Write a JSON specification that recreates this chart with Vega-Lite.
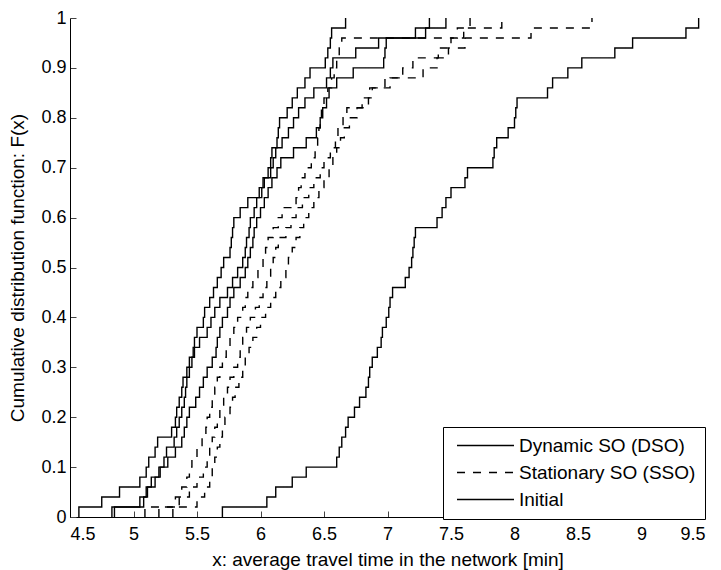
{
  "$schema": "https://vega.github.io/schema/vega-lite/v6.json",
  "width": 635,
  "height": 499,
  "autosize": {"type": "none"},
  "padding": {"left": 70, "top": 18, "right": 16, "bottom": 53},
  "config": {
    "view": {"stroke": null},
    "font": "Liberation Sans",
    "axis": {"grid": false, "domainColor": "#000", "tickColor": "#444", "labelColor": "#000", "titleColor": "#000", "labelFont": "Liberation Sans", "titleFont": "Liberation Sans", "labelFontSize": 18, "titleFontSize": 19, "titleFontWeight": "normal"}
  },
  "data": {"values": [
    {"run":"I","x":5.70,"y":0},
    {"run":"I","x":5.70,"y":0.02},{"run":"I","x":6.05,"y":0.04},{"run":"I","x":6.12,"y":0.06},{"run":"I","x":6.25,"y":0.08},{"run":"I","x":6.36,"y":0.10},
    {"run":"I","x":6.60,"y":0.12},{"run":"I","x":6.62,"y":0.14},{"run":"I","x":6.64,"y":0.16},{"run":"I","x":6.67,"y":0.18},{"run":"I","x":6.69,"y":0.20},
    {"run":"I","x":6.74,"y":0.22},{"run":"I","x":6.78,"y":0.24},{"run":"I","x":6.83,"y":0.26},{"run":"I","x":6.85,"y":0.28},{"run":"I","x":6.86,"y":0.30},
    {"run":"I","x":6.88,"y":0.32},{"run":"I","x":6.92,"y":0.34},{"run":"I","x":6.95,"y":0.36},{"run":"I","x":6.96,"y":0.38},{"run":"I","x":6.99,"y":0.40},
    {"run":"I","x":7.01,"y":0.42},{"run":"I","x":7.02,"y":0.44},{"run":"I","x":7.04,"y":0.46},{"run":"I","x":7.14,"y":0.48},{"run":"I","x":7.17,"y":0.50},
    {"run":"I","x":7.19,"y":0.52},{"run":"I","x":7.20,"y":0.54},{"run":"I","x":7.21,"y":0.56},{"run":"I","x":7.22,"y":0.58},{"run":"I","x":7.39,"y":0.60},
    {"run":"I","x":7.43,"y":0.62},{"run":"I","x":7.46,"y":0.64},{"run":"I","x":7.50,"y":0.66},{"run":"I","x":7.61,"y":0.68},{"run":"I","x":7.63,"y":0.70},
    {"run":"I","x":7.83,"y":0.72},{"run":"I","x":7.84,"y":0.74},{"run":"I","x":7.86,"y":0.76},{"run":"I","x":7.95,"y":0.78},{"run":"I","x":8.00,"y":0.80},
    {"run":"I","x":8.01,"y":0.82},{"run":"I","x":8.02,"y":0.84},{"run":"I","x":8.26,"y":0.86},{"run":"I","x":8.30,"y":0.88},{"run":"I","x":8.42,"y":0.90},
    {"run":"I","x":8.53,"y":0.92},{"run":"I","x":8.79,"y":0.94},{"run":"I","x":8.93,"y":0.96},{"run":"I","x":9.35,"y":0.98},{"run":"I","x":9.45,"y":1.00},

    {"run":"D1","x":4.57,"y":0},
    {"run":"D1","x":4.57,"y":0.02},{"run":"D1","x":4.75,"y":0.04},{"run":"D1","x":4.89,"y":0.06},{"run":"D1","x":5.05,"y":0.08},{"run":"D1","x":5.10,"y":0.10},
    {"run":"D1","x":5.12,"y":0.12},{"run":"D1","x":5.17,"y":0.14},{"run":"D1","x":5.19,"y":0.16},{"run":"D1","x":5.30,"y":0.18},{"run":"D1","x":5.33,"y":0.20},
    {"run":"D1","x":5.34,"y":0.22},{"run":"D1","x":5.36,"y":0.24},{"run":"D1","x":5.38,"y":0.26},{"run":"D1","x":5.39,"y":0.28},{"run":"D1","x":5.42,"y":0.30},
    {"run":"D1","x":5.44,"y":0.32},{"run":"D1","x":5.47,"y":0.34},{"run":"D1","x":5.48,"y":0.36},{"run":"D1","x":5.50,"y":0.38},{"run":"D1","x":5.55,"y":0.40},
    {"run":"D1","x":5.56,"y":0.42},{"run":"D1","x":5.60,"y":0.44},{"run":"D1","x":5.63,"y":0.46},{"run":"D1","x":5.66,"y":0.48},{"run":"D1","x":5.69,"y":0.50},
    {"run":"D1","x":5.71,"y":0.52},{"run":"D1","x":5.76,"y":0.54},{"run":"D1","x":5.77,"y":0.56},{"run":"D1","x":5.78,"y":0.58},{"run":"D1","x":5.79,"y":0.60},
    {"run":"D1","x":5.84,"y":0.62},{"run":"D1","x":5.90,"y":0.64},{"run":"D1","x":6.01,"y":0.66},{"run":"D1","x":6.02,"y":0.68},{"run":"D1","x":6.06,"y":0.70},
    {"run":"D1","x":6.08,"y":0.72},{"run":"D1","x":6.09,"y":0.74},{"run":"D1","x":6.13,"y":0.76},{"run":"D1","x":6.14,"y":0.78},{"run":"D1","x":6.15,"y":0.80},
    {"run":"D1","x":6.21,"y":0.82},{"run":"D1","x":6.25,"y":0.84},{"run":"D1","x":6.29,"y":0.86},{"run":"D1","x":6.35,"y":0.88},{"run":"D1","x":6.39,"y":0.90},
    {"run":"D1","x":6.51,"y":0.92},{"run":"D1","x":6.53,"y":0.94},{"run":"D1","x":6.55,"y":0.96},{"run":"D1","x":6.56,"y":0.98},{"run":"D1","x":6.67,"y":1.00},

    {"run":"D2","x":4.83,"y":0},
    {"run":"D2","x":4.83,"y":0.02},{"run":"D2","x":5.05,"y":0.04},{"run":"D2","x":5.10,"y":0.06},{"run":"D2","x":5.14,"y":0.08},{"run":"D2","x":5.20,"y":0.10},
    {"run":"D2","x":5.24,"y":0.12},{"run":"D2","x":5.26,"y":0.14},{"run":"D2","x":5.32,"y":0.16},{"run":"D2","x":5.34,"y":0.18},{"run":"D2","x":5.36,"y":0.20},
    {"run":"D2","x":5.38,"y":0.22},{"run":"D2","x":5.40,"y":0.24},{"run":"D2","x":5.41,"y":0.26},{"run":"D2","x":5.42,"y":0.28},{"run":"D2","x":5.44,"y":0.30},
    {"run":"D2","x":5.46,"y":0.32},{"run":"D2","x":5.48,"y":0.34},{"run":"D2","x":5.52,"y":0.36},{"run":"D2","x":5.58,"y":0.38},{"run":"D2","x":5.61,"y":0.40},
    {"run":"D2","x":5.64,"y":0.42},{"run":"D2","x":5.68,"y":0.44},{"run":"D2","x":5.74,"y":0.46},{"run":"D2","x":5.78,"y":0.48},{"run":"D2","x":5.82,"y":0.50},
    {"run":"D2","x":5.86,"y":0.52},{"run":"D2","x":5.88,"y":0.54},{"run":"D2","x":5.89,"y":0.56},{"run":"D2","x":5.91,"y":0.58},{"run":"D2","x":5.92,"y":0.60},
    {"run":"D2","x":5.95,"y":0.62},{"run":"D2","x":5.97,"y":0.64},{"run":"D2","x":5.99,"y":0.66},{"run":"D2","x":6.03,"y":0.68},{"run":"D2","x":6.08,"y":0.70},
    {"run":"D2","x":6.10,"y":0.72},{"run":"D2","x":6.12,"y":0.74},{"run":"D2","x":6.17,"y":0.76},{"run":"D2","x":6.22,"y":0.78},{"run":"D2","x":6.26,"y":0.80},
    {"run":"D2","x":6.30,"y":0.82},{"run":"D2","x":6.35,"y":0.84},{"run":"D2","x":6.42,"y":0.86},{"run":"D2","x":6.52,"y":0.88},{"run":"D2","x":6.55,"y":0.90},
    {"run":"D2","x":6.57,"y":0.92},{"run":"D2","x":6.75,"y":0.94},{"run":"D2","x":6.93,"y":0.96},{"run":"D2","x":7.22,"y":0.98},{"run":"D2","x":7.33,"y":1.00},

    {"run":"D3","x":4.85,"y":0},
    {"run":"D3","x":4.85,"y":0.02},{"run":"D3","x":5.08,"y":0.04},{"run":"D3","x":5.11,"y":0.06},{"run":"D3","x":5.17,"y":0.08},{"run":"D3","x":5.21,"y":0.10},
    {"run":"D3","x":5.27,"y":0.12},{"run":"D3","x":5.33,"y":0.14},{"run":"D3","x":5.38,"y":0.16},{"run":"D3","x":5.40,"y":0.18},{"run":"D3","x":5.42,"y":0.20},
    {"run":"D3","x":5.44,"y":0.22},{"run":"D3","x":5.49,"y":0.24},{"run":"D3","x":5.52,"y":0.26},{"run":"D3","x":5.55,"y":0.28},{"run":"D3","x":5.58,"y":0.30},
    {"run":"D3","x":5.62,"y":0.32},{"run":"D3","x":5.65,"y":0.34},{"run":"D3","x":5.66,"y":0.36},{"run":"D3","x":5.68,"y":0.38},{"run":"D3","x":5.70,"y":0.40},
    {"run":"D3","x":5.74,"y":0.42},{"run":"D3","x":5.76,"y":0.44},{"run":"D3","x":5.79,"y":0.46},{"run":"D3","x":5.84,"y":0.48},{"run":"D3","x":5.88,"y":0.50},
    {"run":"D3","x":5.90,"y":0.52},{"run":"D3","x":5.92,"y":0.54},{"run":"D3","x":5.94,"y":0.56},{"run":"D3","x":5.95,"y":0.58},{"run":"D3","x":5.97,"y":0.60},
    {"run":"D3","x":6.00,"y":0.62},{"run":"D3","x":6.03,"y":0.64},{"run":"D3","x":6.06,"y":0.66},{"run":"D3","x":6.09,"y":0.68},{"run":"D3","x":6.13,"y":0.70},
    {"run":"D3","x":6.16,"y":0.72},{"run":"D3","x":6.26,"y":0.74},{"run":"D3","x":6.36,"y":0.76},{"run":"D3","x":6.44,"y":0.78},{"run":"D3","x":6.47,"y":0.80},
    {"run":"D3","x":6.49,"y":0.82},{"run":"D3","x":6.52,"y":0.84},{"run":"D3","x":6.54,"y":0.86},{"run":"D3","x":6.60,"y":0.88},{"run":"D3","x":6.73,"y":0.90},
    {"run":"D3","x":6.97,"y":0.92},{"run":"D3","x":6.98,"y":0.94},{"run":"D3","x":6.99,"y":0.96},{"run":"D3","x":7.30,"y":0.98},{"run":"D3","x":7.46,"y":1.00},

    {"run":"S1","x":5.09,"y":0},
    {"run":"S1","x":5.09,"y":0.02},{"run":"S1","x":5.33,"y":0.04},{"run":"S1","x":5.38,"y":0.06},{"run":"S1","x":5.42,"y":0.08},{"run":"S1","x":5.44,"y":0.10},
    {"run":"S1","x":5.46,"y":0.12},{"run":"S1","x":5.50,"y":0.14},{"run":"S1","x":5.54,"y":0.16},{"run":"S1","x":5.57,"y":0.18},{"run":"S1","x":5.58,"y":0.20},
    {"run":"S1","x":5.60,"y":0.22},{"run":"S1","x":5.62,"y":0.24},{"run":"S1","x":5.64,"y":0.26},{"run":"S1","x":5.66,"y":0.28},{"run":"S1","x":5.68,"y":0.30},
    {"run":"S1","x":5.70,"y":0.32},{"run":"S1","x":5.73,"y":0.34},{"run":"S1","x":5.76,"y":0.36},{"run":"S1","x":5.79,"y":0.38},{"run":"S1","x":5.82,"y":0.40},
    {"run":"S1","x":5.86,"y":0.42},{"run":"S1","x":5.88,"y":0.44},{"run":"S1","x":5.90,"y":0.46},{"run":"S1","x":5.94,"y":0.48},{"run":"S1","x":5.98,"y":0.50},
    {"run":"S1","x":6.02,"y":0.52},{"run":"S1","x":6.04,"y":0.54},{"run":"S1","x":6.06,"y":0.56},{"run":"S1","x":6.10,"y":0.58},{"run":"S1","x":6.14,"y":0.60},
    {"run":"S1","x":6.17,"y":0.62},{"run":"S1","x":6.28,"y":0.64},{"run":"S1","x":6.30,"y":0.66},{"run":"S1","x":6.32,"y":0.68},{"run":"S1","x":6.35,"y":0.70},
    {"run":"S1","x":6.40,"y":0.72},{"run":"S1","x":6.43,"y":0.74},{"run":"S1","x":6.45,"y":0.76},{"run":"S1","x":6.46,"y":0.78},{"run":"S1","x":6.47,"y":0.80},
    {"run":"S1","x":6.48,"y":0.82},{"run":"S1","x":6.50,"y":0.84},{"run":"S1","x":6.53,"y":0.86},{"run":"S1","x":6.56,"y":0.88},{"run":"S1","x":6.58,"y":0.90},
    {"run":"S1","x":6.60,"y":0.92},{"run":"S1","x":6.62,"y":0.94},{"run":"S1","x":6.64,"y":0.96},{"run":"S1","x":7.55,"y":0.98},{"run":"S1","x":7.65,"y":1.00},

    {"run":"S2","x":5.20,"y":0},
    {"run":"S2","x":5.20,"y":0.02},{"run":"S2","x":5.36,"y":0.04},{"run":"S2","x":5.44,"y":0.06},{"run":"S2","x":5.50,"y":0.08},{"run":"S2","x":5.55,"y":0.10},
    {"run":"S2","x":5.58,"y":0.12},{"run":"S2","x":5.60,"y":0.14},{"run":"S2","x":5.62,"y":0.16},{"run":"S2","x":5.64,"y":0.18},{"run":"S2","x":5.66,"y":0.20},
    {"run":"S2","x":5.68,"y":0.22},{"run":"S2","x":5.71,"y":0.24},{"run":"S2","x":5.74,"y":0.26},{"run":"S2","x":5.76,"y":0.28},{"run":"S2","x":5.79,"y":0.30},
    {"run":"S2","x":5.82,"y":0.32},{"run":"S2","x":5.84,"y":0.34},{"run":"S2","x":5.86,"y":0.36},{"run":"S2","x":5.89,"y":0.38},{"run":"S2","x":5.92,"y":0.40},
    {"run":"S2","x":5.96,"y":0.42},{"run":"S2","x":5.99,"y":0.44},{"run":"S2","x":6.02,"y":0.46},{"run":"S2","x":6.05,"y":0.48},{"run":"S2","x":6.08,"y":0.50},
    {"run":"S2","x":6.10,"y":0.52},{"run":"S2","x":6.12,"y":0.54},{"run":"S2","x":6.14,"y":0.56},{"run":"S2","x":6.20,"y":0.58},{"run":"S2","x":6.24,"y":0.60},
    {"run":"S2","x":6.28,"y":0.62},{"run":"S2","x":6.33,"y":0.64},{"run":"S2","x":6.38,"y":0.66},{"run":"S2","x":6.42,"y":0.68},{"run":"S2","x":6.47,"y":0.70},
    {"run":"S2","x":6.50,"y":0.72},{"run":"S2","x":6.55,"y":0.74},{"run":"S2","x":6.59,"y":0.76},{"run":"S2","x":6.61,"y":0.78},{"run":"S2","x":6.65,"y":0.80},
    {"run":"S2","x":6.68,"y":0.82},{"run":"S2","x":6.80,"y":0.84},{"run":"S2","x":6.88,"y":0.86},{"run":"S2","x":6.98,"y":0.88},{"run":"S2","x":7.28,"y":0.90},
    {"run":"S2","x":7.39,"y":0.92},{"run":"S2","x":7.48,"y":0.94},{"run":"S2","x":7.61,"y":0.96},{"run":"S2","x":8.13,"y":0.98},{"run":"S2","x":8.61,"y":1.00},

    {"run":"S3","x":5.31,"y":0},
    {"run":"S3","x":5.31,"y":0.02},{"run":"S3","x":5.50,"y":0.04},{"run":"S3","x":5.56,"y":0.06},{"run":"S3","x":5.60,"y":0.08},{"run":"S3","x":5.62,"y":0.10},
    {"run":"S3","x":5.64,"y":0.12},{"run":"S3","x":5.66,"y":0.14},{"run":"S3","x":5.68,"y":0.16},{"run":"S3","x":5.70,"y":0.18},{"run":"S3","x":5.72,"y":0.20},
    {"run":"S3","x":5.76,"y":0.22},{"run":"S3","x":5.78,"y":0.24},{"run":"S3","x":5.80,"y":0.26},{"run":"S3","x":5.83,"y":0.28},{"run":"S3","x":5.86,"y":0.30},
    {"run":"S3","x":5.88,"y":0.32},{"run":"S3","x":5.91,"y":0.34},{"run":"S3","x":5.94,"y":0.36},{"run":"S3","x":5.97,"y":0.38},{"run":"S3","x":6.00,"y":0.40},
    {"run":"S3","x":6.04,"y":0.42},{"run":"S3","x":6.08,"y":0.44},{"run":"S3","x":6.12,"y":0.46},{"run":"S3","x":6.16,"y":0.48},{"run":"S3","x":6.20,"y":0.50},
    {"run":"S3","x":6.22,"y":0.52},{"run":"S3","x":6.25,"y":0.54},{"run":"S3","x":6.28,"y":0.56},{"run":"S3","x":6.31,"y":0.58},{"run":"S3","x":6.34,"y":0.60},
    {"run":"S3","x":6.38,"y":0.62},{"run":"S3","x":6.42,"y":0.64},{"run":"S3","x":6.46,"y":0.66},{"run":"S3","x":6.50,"y":0.68},{"run":"S3","x":6.54,"y":0.70},
    {"run":"S3","x":6.57,"y":0.72},{"run":"S3","x":6.60,"y":0.74},{"run":"S3","x":6.63,"y":0.76},{"run":"S3","x":6.66,"y":0.78},{"run":"S3","x":6.70,"y":0.80},
    {"run":"S3","x":6.76,"y":0.82},{"run":"S3","x":6.85,"y":0.84},{"run":"S3","x":6.86,"y":0.86},{"run":"S3","x":7.02,"y":0.88},{"run":"S3","x":7.12,"y":0.90},
    {"run":"S3","x":7.20,"y":0.92},{"run":"S3","x":7.40,"y":0.94},{"run":"S3","x":7.50,"y":0.96},{"run":"S3","x":7.60,"y":0.98},{"run":"S3","x":7.90,"y":1.00}
  ]},
  "transform": [
    {"lookup": "run", "from": {"data": {"values": [
      {"run": "D1", "type": "Dynamic SO (DSO)"}, {"run": "D2", "type": "Dynamic SO (DSO)"}, {"run": "D3", "type": "Dynamic SO (DSO)"},
      {"run": "S1", "type": "Stationary SO (SSO)"}, {"run": "S2", "type": "Stationary SO (SSO)"}, {"run": "S3", "type": "Stationary SO (SSO)"},
      {"run": "I", "type": "Initial"}]}, "key": "run", "fields": ["type"]}}
  ],
  "mark": {"type": "line", "interpolate": "step-after", "color": "black", "clip": true},
  "encoding": {
    "x": {"field": "x", "type": "quantitative", "scale": {"domain": [4.5, 9.5], "nice": false, "zero": false},
      "axis": {"title": "x: average travel time in the network [min]", "values": [4.5,5,5.5,6,6.5,7,7.5,8,8.5,9,9.5], "format": "~g", "tickSize": -6, "labelPadding": 14, "titlePadding": 7}},
    "y": {"field": "y", "type": "quantitative", "scale": {"domain": [0, 1], "nice": false},
      "axis": {"title": "Cumulative distribution function: F(x)", "values": [0,0.1,0.2,0.3,0.4,0.5,0.6,0.7,0.8,0.9,1], "format": "~g", "tickSize": -6, "labelPadding": 10, "titlePadding": 13}},
    "detail": {"field": "run"},
    "order": {"field": "y"},
    "strokeDash": {"field": "type", "type": "nominal",
      "scale": {"domain": ["Dynamic SO (DSO)", "Stationary SO (SSO)", "Initial"], "range": [[1,0],[8,8],[1,0]]},
      "legend": {"title": null, "orient": "none", "legendX": 373, "legendY": 409, "strokeColor": "black", "fillColor": "white", "padding": 9, "rowPadding": 7, "labelFontSize": 19, "labelColor": "black", "labelLimit": 400, "symbolSize": 203, "symbolStrokeColor": "black", "symbolType": "M-4,0H4", "symbolOffset": 24, "labelOffset": 24}},
    "strokeWidth": {"field": "type", "type": "nominal",
      "scale": {"domain": ["Dynamic SO (DSO)", "Stationary SO (SSO)", "Initial"], "range": [1.4, 1.4, 4]},
      "legend": null}
  }
}
